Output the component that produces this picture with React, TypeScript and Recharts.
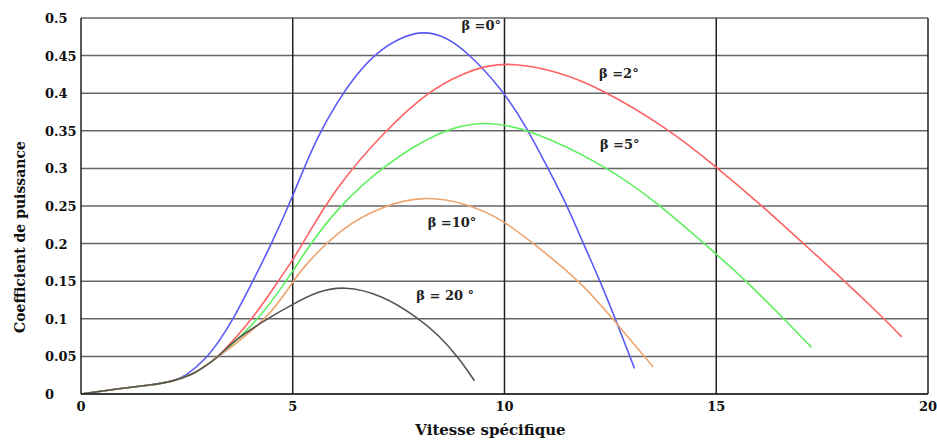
import React from 'react';
import {
  LineChart, Line, XAxis, YAxis, CartesianGrid, ReferenceLine, ReferenceDot,
} from 'recharts';

// courbes Cp(lambda) pour différents angles de calage
const beta0 = [
  [0, 0], [1, 0.008], [1.66, 0.012], [2.14, 0.0166], [2.46, 0.023], [2.94, 0.046], [3.26, 0.07],
  [3.6, 0.1], [4.06, 0.15], [4.5, 0.2], [4.9, 0.25], [5.25, 0.298], [5.57, 0.34],
  [6.03, 0.387], [6.5, 0.425], [6.97, 0.4536], [7.5, 0.473], [8.05, 0.483], [8.6, 0.476],
  [9.14, 0.454], [9.95, 0.405], [10.53, 0.354], [11.0, 0.303], [11.47, 0.252],
  [11.86, 0.2], [12.26, 0.15], [12.61, 0.101], [13.07, 0.034],
];
const beta2 = [
  [0, 0], [1, 0.008], [1.66, 0.012], [2.14, 0.0164], [2.62, 0.0253], [2.94, 0.0373], [3.26, 0.05],
  [4.06, 0.1], [4.68, 0.152], [5.0, 0.178], [5.23, 0.2], [6.03, 0.276], [7.19, 0.351],
  [8.2, 0.4025], [9.0, 0.426], [9.6, 0.437], [10.2, 0.44], [11.2, 0.43], [12.26, 0.407],
  [13.84, 0.354], [14.94, 0.305], [16.11, 0.249], [17.06, 0.2], [18.0, 0.152],
  [18.91, 0.103], [19.38, 0.076],
];
const beta5 = [
  [0, 0], [1, 0.008], [1.66, 0.012], [2.14, 0.0164], [2.62, 0.0253], [2.94, 0.0373], [3.26, 0.05],
  [4.22, 0.1], [4.86, 0.152], [5.0, 0.163], [5.42, 0.2], [6.1, 0.25], [7.12, 0.303],
  [8.51, 0.352], [9.51, 0.363], [10.53, 0.354], [12.42, 0.303], [13.66, 0.252],
  [14.88, 0.192], [15.68, 0.152], [16.58, 0.101], [17.25, 0.062],
];
const beta10 = [
  [0, 0], [1, 0.008], [1.66, 0.012], [2.14, 0.0164], [2.62, 0.0253], [2.94, 0.0373], [3.26, 0.05],
  [4.42, 0.1], [5.0, 0.149], [5.26, 0.17], [6.19, 0.223], [7.12, 0.25], [8.09, 0.264],
  [9.14, 0.253], [9.95, 0.232], [10.69, 0.2], [11.79, 0.15], [12.58, 0.0985], [13.51, 0.036],
];
const beta20 = [
  [0, 0], [1, 0.008], [1.66, 0.012], [2.14, 0.0164], [2.62, 0.0253], [2.94, 0.0373], [3.26, 0.05],
  [3.58, 0.07], [4.38, 0.0995], [5.0, 0.1194], [5.57, 0.136], [6.19, 0.144], [7.12, 0.132],
  [7.97, 0.1008], [8.44, 0.0786], [8.9, 0.0497], [9.29, 0.0177],
];

const xTicks = [0, 5, 10, 15, 20];
const yTicks = [0, 0.05, 0.1, 0.15, 0.2, 0.25, 0.3, 0.35, 0.4, 0.45, 0.5];
const vLines = [5, 10, 15, 20];

const curveLabels = [
  { x: 9.45, y: 0.49, text: 'β =0°' },
  { x: 12.7, y: 0.426, text: 'β =2°' },
  { x: 12.72, y: 0.332, text: 'β =5°' },
  { x: 8.76, y: 0.228, text: 'β =10°' },
  { x: 8.6, y: 0.1305, text: 'β = 20 °' },
];

const series = [
  { name: 'b0', pts: beta0, color: '#5a5af5' },
  { name: 'b2', pts: beta2, color: '#ff6262' },
  { name: 'b5', pts: beta5, color: '#5ef05e' },
  { name: 'b10', pts: beta10, color: '#eea46e' },
  { name: 'b20', pts: beta20, color: '#555555' },
];

const FONT = '"DejaVu Serif", serif';

const toRows = (pts: number[][]) => pts.map(([x, y]) => ({ x, y }));

function YTick(props: any) {
  const { x, y, payload } = props;
  return (
    <text x={x - 28} y={y} dy={5} textAnchor="start" fontFamily={FONT} fontWeight="bold" fontSize={13} fill="#111">
      {payload.value}
    </text>
  );
}

function YTitle(props: any) {
  const { viewBox } = props;
  const cx = 20;
  const cy = viewBox.y + viewBox.height / 2 + 31;
  return (
    <text x={cx} y={cy} transform={`rotate(-90, ${cx}, ${cy})`} textAnchor="middle" dominantBaseline="central"
      fontFamily={FONT} fontWeight="bold" fontSize={14} fill="#111">
      Coefficient de puissance
    </text>
  );
}

export default function App() {
  return (
    <div style={{ position: 'absolute', left: 0, top: 0, background: '#fff' }}>
      <LineChart width={937} height={440} margin={{ top: 18, right: 9, left: 0, bottom: 0 }}>
        <CartesianGrid vertical={false} stroke="#666" strokeWidth={1.5} />
        <XAxis
          type="number" dataKey="x" domain={[0, 20]} ticks={xTicks} height={46}
          axisLine={{ stroke: '#222', strokeWidth: 1.5 }} tickLine={false}
          tick={{ fontFamily: FONT, fontWeight: 'bold', fontSize: 13, fill: '#111' }}
          tickMargin={2}
          label={{ value: 'Vitesse spécifique', position: 'insideBottom', offset: 5, dx: -14, fontFamily: FONT, fontWeight: 'bold', fontSize: 15, fill: '#111' }}
        />
        <YAxis
          type="number" domain={[0, 0.5]} ticks={yTicks} width={81}
          axisLine={{ stroke: '#222', strokeWidth: 1.5 }} tickLine={false}
          tick={<YTick />}
          label={<YTitle />}
        />
        {vLines.map(v => (
          <ReferenceLine key={v} x={v} stroke="#222" strokeWidth={1.5} />
        ))}
        {series.map(s => (
          <Line
            key={s.name} data={toRows(s.pts)} dataKey="y" type="basis" stroke={s.color}
            strokeWidth={1.6} dot={false} isAnimationActive={false}
          />
        ))}
        {curveLabels.map(l => (
          <ReferenceDot
            key={l.text} x={l.x} y={l.y} r={0} fill="none" stroke="none"
            label={{ value: l.text, position: 'center', fontFamily: FONT, fontWeight: 'bold', fontSize: 13, fill: '#222' }}
          />
        ))}
      </LineChart>
    </div>
  );
}
